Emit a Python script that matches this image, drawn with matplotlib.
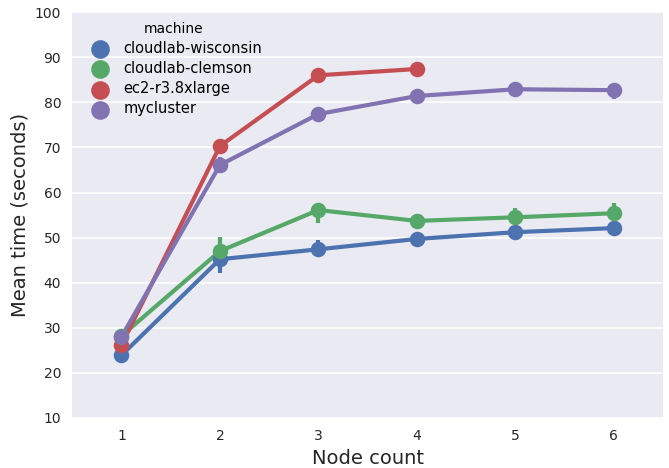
import matplotlib
matplotlib.use("Agg")
import matplotlib.pyplot as plt
import numpy as np

# node counts on the x axis
nodes = [1, 2, 3, 4, 5, 6]
machines = ["cloudlab-wisconsin", "cloudlab-clemson", "ec2-r3.8xlarge", "mycluster"]
colors = ["#4C72B0", "#55A868", "#C44E52", "#8172B2"]

# mean time (seconds) per machine, None where no run
wisconsin = [23.9, 45.2, 47.4, 49.7, 51.2, 52.1]
clemson = [28.2, 47.0, 56.1, 53.7, 54.5, 55.4]
ec2 = [26.2, 70.3, 86.0, 87.4, None, None]
mycluster = [28.0, 66.1, 77.4, 81.4, 82.9, 82.7]

# confidence interval ends
wisconsin_lo = [23.5, 42.1, 46.1, 49.2, 50.8, 51.7]
wisconsin_hi = [24.3, 45.9, 49.4, 50.2, 51.7, 52.5]
clemson_lo = [27.8, 45.7, 53.2, 52.3, 52.8, 54.5]
clemson_hi = [28.6, 50.1, 57.2, 55.2, 56.5, 57.6]
ec2_lo = [25.8, 69.4, 85.2, 86.9, None, None]
ec2_hi = [26.6, 71.2, 86.9, 87.9, None, None]
mycluster_lo = [27.6, 64.3, 76.9, 80.9, 82.4, 80.7]
mycluster_hi = [28.4, 67.8, 77.9, 81.9, 83.3, 83.1]

means = [wisconsin, clemson, ec2, mycluster]
lows = [wisconsin_lo, clemson_lo, ec2_lo, mycluster_lo]
highs = [wisconsin_hi, clemson_hi, ec2_hi, mycluster_hi]

fig = plt.figure(figsize=(6.69, 4.68), dpi=100)
ax = fig.add_axes([0.108, 0.107, 0.883, 0.867])
ax.set_facecolor("#EAEAF2")
for s in ax.spines.values():
    s.set_visible(False)
ax.yaxis.grid(True, color="white", linewidth=1.2)
ax.set_axisbelow(True)

pos = np.arange(len(nodes))
for name, col, m, lo, hi in zip(machines, colors, means, lows, highs):
    idx = [i for i, v in enumerate(m) if v is not None]
    xs = pos[idx]
    ys = [m[i] for i in idx]
    ax.plot(xs, ys, color=col, lw=3.0, zorder=2)
    for i in idx:
        ax.plot([pos[i], pos[i]], [lo[i], hi[i]], color=col, lw=3.0, solid_capstyle="butt", zorder=2)
    ax.scatter(xs, ys, s=125, color=col, zorder=3, label=name, linewidths=0)

ax.set_xlim(-0.5, len(nodes) - 0.5)
ax.set_ylim(10, 100)
ax.set_xticks(pos)
ax.set_xticklabels([str(n) for n in nodes])
ax.set_yticks(range(10, 101, 10))
ax.tick_params(length=0, labelsize=10, colors="#262626", pad=8)
ax.set_xlabel("Node count", fontsize=14, color="#262626")
ax.set_ylabel("Mean time (seconds)", fontsize=14, color="#262626")

leg = ax.legend(title="machine", loc="upper left", frameon=False, fontsize=10.5,
                title_fontsize=10, scatterpoints=1, handletextpad=0.6,
                labelspacing=0.35, markerscale=1.2, bbox_to_anchor=(0.0, 1.008))

fig.savefig("out.png", dpi=100)
